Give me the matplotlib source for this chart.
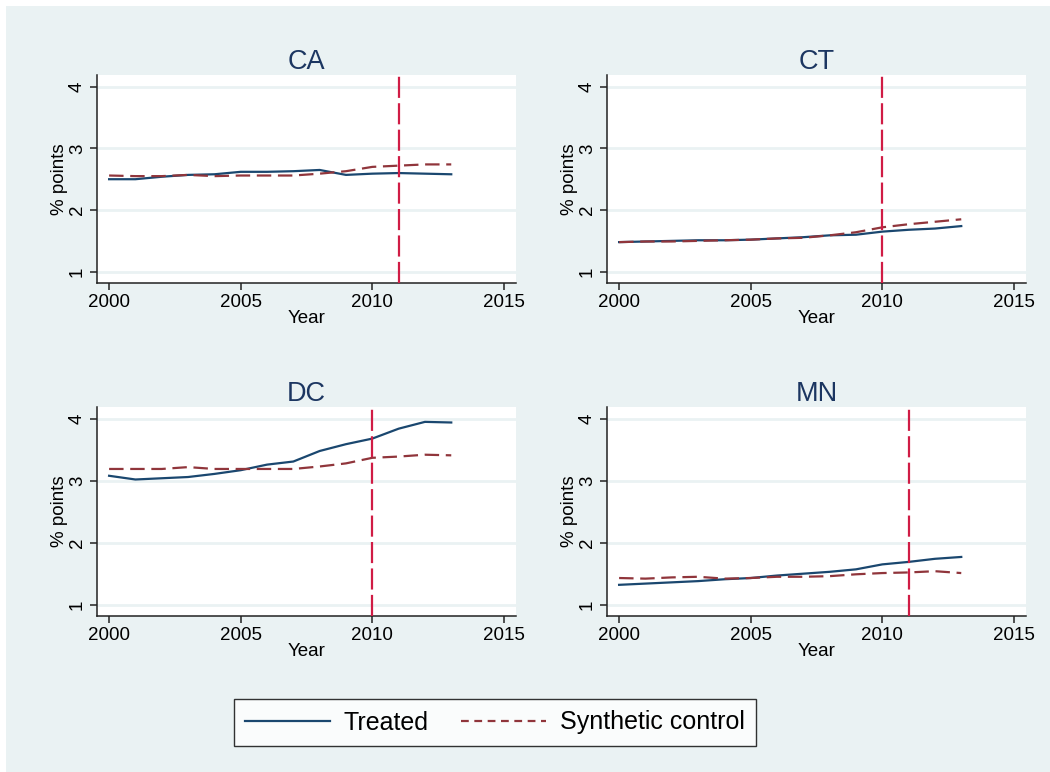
import matplotlib
matplotlib.use("Agg")
from matplotlib import pyplot as plt
from matplotlib.patches import Rectangle
from matplotlib.lines import Line2D

# data
years = list(range(2000, 2014))
states = ["CA", "CT", "DC", "MN"]
treat_year = [2011, 2010, 2010, 2011]

ca_treated = [2.50, 2.50, 2.54, 2.57, 2.58, 2.62, 2.62, 2.63, 2.65, 2.57, 2.59, 2.60, 2.59, 2.58]
ca_synth = [2.56, 2.55, 2.55, 2.57, 2.55, 2.56, 2.56, 2.56, 2.59, 2.63, 2.70, 2.72, 2.74, 2.74]
ct_treated = [1.48, 1.49, 1.50, 1.51, 1.51, 1.52, 1.54, 1.56, 1.59, 1.60, 1.65, 1.68, 1.70, 1.74]
ct_synth = [1.48, 1.49, 1.49, 1.50, 1.51, 1.52, 1.54, 1.55, 1.59, 1.64, 1.72, 1.77, 1.81, 1.85]
dc_treated = [3.08, 3.02, 3.04, 3.06, 3.11, 3.17, 3.26, 3.31, 3.48, 3.59, 3.68, 3.84, 3.95, 3.94]
dc_synth = [3.19, 3.19, 3.19, 3.22, 3.19, 3.19, 3.19, 3.19, 3.23, 3.28, 3.37, 3.39, 3.42, 3.41]
mn_treated = [1.32, 1.34, 1.36, 1.38, 1.41, 1.43, 1.47, 1.50, 1.53, 1.57, 1.65, 1.69, 1.74, 1.77]
mn_synth = [1.43, 1.42, 1.44, 1.45, 1.42, 1.43, 1.45, 1.45, 1.46, 1.49, 1.51, 1.52, 1.54, 1.51]

treated = [ca_treated, ct_treated, dc_treated, mn_treated]
synth = [ca_synth, ct_synth, dc_synth, mn_synth]

x_ticks = [2000, 2005, 2010, 2015]
y_ticks = [1, 2, 3, 4]

# stata s2color look
bg = "#EAF2F3"
navy = "#1A476F"
maroon = "#90353B"
vline_color = "#D01C45"
title_color = "#1C3661"

plt.rcParams["font.family"] = ["Liberation Sans", "DejaVu Sans"]

W, H = 1050, 772
fig = plt.figure(figsize=(W / 100, H / 100), dpi=100)
fig.patch.set_facecolor("white")
fig.patches.append(Rectangle((6 / W, 0), 1, 1 - 6 / H, transform=fig.transFigure,
                             facecolor=bg, edgecolor="none", zorder=-10))

# axes boxes in pixels: left, top, right, bottom
boxes = [(97, 75, 516, 283), (607, 75, 1026, 283),
         (97, 407, 516, 616), (607, 407, 1026, 616)]

for i, st in enumerate(states):
    l, t, r, b = boxes[i]
    ax = fig.add_axes([l / W, 1 - b / H, (r - l) / W, (b - t) / H])
    ax.set_facecolor("white")

    # grid
    for yv in y_ticks:
        ax.axhline(yv, color=bg, lw=2, zorder=1)

    ax.plot(years, treated[i], color=navy, lw=1.6, zorder=3)
    ax.plot(years, synth[i], color=maroon, lw=1.6, dashes=(6.5, 3), zorder=3)
    ax.axvline(treat_year[i], color=vline_color, lw=1.6, dashes=(9.5, 2.4), zorder=4)

    ax.set_xlim(1999.54, 2015.46)
    ax.set_ylim(0.817, 4.19)
    ax.set_xticks(x_ticks)
    ax.set_yticks(y_ticks)
    ax.set_yticklabels([str(v) for v in y_ticks], rotation=90, va="center")
    ax.tick_params(axis="both", direction="out", length=5, width=1.1,
                   labelsize=13.5, color="#222222", pad=3)

    for side in ["top", "right"]:
        ax.spines[side].set_visible(False)
    for side in ["left", "bottom"]:
        ax.spines[side].set_color("#222222")
        ax.spines[side].set_linewidth(1.1)

    ax.set_title(st, fontsize=19.5, color=title_color, pad=4)
    ax.set_xlabel("Year", fontsize=13.5, labelpad=-1)
    ax.set_ylabel("% points", fontsize=13.5, labelpad=1)

# legend
handles = [Line2D([], [], color=navy, lw=1.6),
           Line2D([], [], color=maroon, lw=1.6, dashes=(3.5, 2.5))]
leg = fig.legend(handles, ["Treated", "Synthetic control"], loc="center",
                 bbox_to_anchor=(495 / W, 1 - 722.5 / H), ncol=2, fontsize=18,
                 handlelength=3.4, columnspacing=1.3, handletextpad=0.55,
                 fancybox=False, frameon=True, borderpad=0.45)
leg.get_frame().set_edgecolor("black")
leg.get_frame().set_linewidth(1.0)
leg.get_frame().set_facecolor("white")

plt.savefig("out.png", dpi=100, facecolor=fig.get_facecolor())
